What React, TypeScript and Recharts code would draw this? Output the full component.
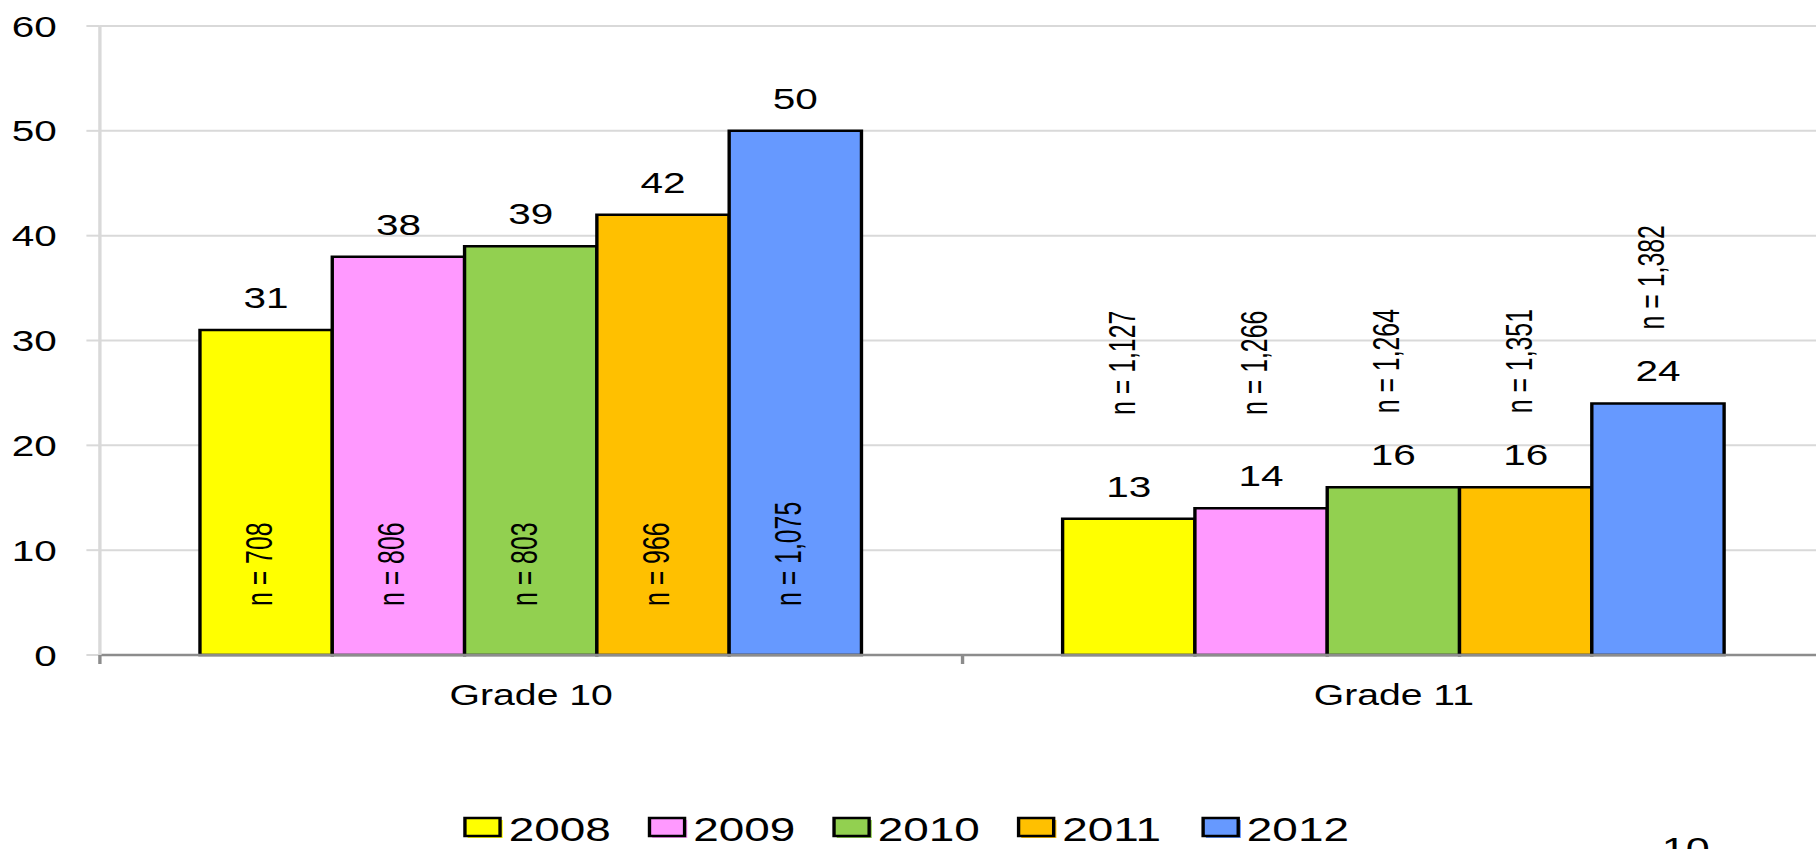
import React from 'react';
import { BarChart, Bar, XAxis, YAxis, CartesianGrid, Legend, LabelList } from 'recharts';

// ---------- data ----------
const categories = ['Grade 10', 'Grade 11'];
const years = ['2008', '2009', '2010', '2011', '2012'];
const values2008 = [31, 13];
const values2009 = [38, 14];
const values2010 = [39, 16];
const values2011 = [42, 16];
const values2012 = [50, 24];
const n2008 = [708, 1127];
const n2009 = [806, 1266];
const n2010 = [803, 1264];
const n2011 = [966, 1351];
const n2012 = [1075, 1382];
const yTicks = [0, 10, 20, 30, 40, 50, 60];
const colors = ['#FFFF00', '#FF99FF', '#92D050', '#FFC000', '#6699FF'];
const pageNumber = '10';

const seriesValues = [values2008, values2009, values2010, values2011, values2012];
const seriesN = [n2008, n2009, n2010, n2011, n2012];

const data = categories.map((c, i) => {
  const row: any = { category: c };
  years.forEach((yr, k) => {
    row['v' + yr] = seriesValues[k][i];
  });
  return row;
});

// ---------- styles ----------
const FONT = '"Liberation Sans", Arial, Helvetica, sans-serif';
const SX = 1.35; // horizontal stretch of the original picture
const CHART_W = 1360;
const CHART_H = 849;

const fmt = (n: number) => 'n = ' + n.toLocaleString('en-US');

const makeNLabel = (k: number) => (props: any) => {
  const vb = props.viewBox || props;
  const x = Number(props.x ?? vb.x);
  const y = Number(props.y ?? vb.y);
  const width = Number(props.width ?? vb.width);
  const height = Number(props.height ?? vb.height);
  const index = props.index;
  const value = seriesValues[k][index];
  const n = seriesN[k][index];
  if (!isFinite(x) || !isFinite(y) || !value) return null;
  const base = y + height;
  const ppu = height / value;
  const cx = x + width / 2;
  let startY: number;
  if (height >= 300) startY = base - 49;
  else startY = Math.min(base - 22.9 * ppu, y - 74);
  return (
    <text
      x={0}
      y={0}
      dy={4.5}
      transform={`translate(${cx} ${startY}) rotate(-90) scale(0.92 1)`}
      textAnchor="start"
      fontSize={27}
      fontFamily={FONT}
      fill="#000"
    >
      {fmt(n)}
    </text>
  );
};

const XTick = (props: any) => {
  const { x, y, payload, width, visibleTicksCount } = props;
  const band = width && visibleTicksCount ? width / visibleTicksCount : 0;
  return (
    <g>
      {band > 0 && (
        <line x1={x - band / 2} x2={x - band / 2} y1={y} y2={y + 9} stroke="#8C8C8C" strokeWidth={2.5} />
      )}
      <text x={x} y={y + 50} textAnchor="middle" fontSize={29} fontFamily={FONT} fill="#000">
        {payload.value}
      </text>
    </g>
  );
};

const LegendContent = () => (
  <svg width={CHART_W} height={60} style={{ display: 'block', overflow: 'visible' }}>
    {years.map((yr, i) => {
      const x0 = 344.4 + i * 136.7;
      return (
        <g key={yr}>
          <rect x={x0 + 2} y={31} width={26} height={18} fill={colors[i]} />
          <rect x={x0} y={29} width={26} height={18} fill={colors[i]} stroke="#000" strokeWidth={2.5} />
          <text x={x0 + 32.4} y={52} fontSize={34} fontFamily={FONT} fill="#000">
            {yr}
          </text>
        </g>
      );
    })}
  </svg>
);

export default function App() {
  return (
    <div
      style={{
        position: 'fixed',
        left: 0,
        top: 0,
        width: 1816,
        height: 849,
        overflow: 'hidden',
        background: '#fff',
      }}
    >
      <div
        style={{
          position: 'relative',
          width: CHART_W,
          height: CHART_H,
          transform: `scaleX(${SX})`,
          transformOrigin: '0 0',
        }}
      >
        <BarChart
          width={CHART_W}
          height={CHART_H}
          data={data}
          margin={{ top: 26, right: 8, bottom: 0, left: 0 }}
          barCategoryGap="11.6%"
          barGap={0}
        >
          <CartesianGrid vertical={false} stroke="#D9D9D9" strokeWidth={2} />
          <XAxis
            dataKey="category"
            height={134}
            tickSize={0}
            tickMargin={0}
            tickLine={false}
            axisLine={{ stroke: '#8C8C8C', strokeWidth: 2.5 }}
            tick={<XTick />}
            interval={0}
          />
          <YAxis
            width={74}
            domain={[0, 60]}
            ticks={yTicks}
            interval={0}
            tickSize={10}
            tickMargin={22}
            axisLine={{ stroke: '#D9D9D9', strokeWidth: 2.5 }}
            tickLine={{ stroke: '#D9D9D9', strokeWidth: 2 }}
            tick={{ fontSize: 30, fill: '#000', fontFamily: FONT }}
          />
          <Legend verticalAlign="bottom" align="left" content={<LegendContent />} />
          {years.map((yr, k) => (
            <Bar
              key={yr}
              dataKey={'v' + yr}
              name={yr}
              fill={colors[k]}
              stroke="#000"
              strokeWidth={2.5}
              isAnimationActive={false}
            >
              <LabelList
                dataKey={'v' + yr}
                position="top"
                offset={22}
                fontSize={30}
                fill="#000"
                fontFamily={FONT}
              />
              <LabelList dataKey={'v' + yr} content={makeNLabel(k)} />
            </Bar>
          ))}
        </BarChart>
        <svg
          width={CHART_W}
          height={CHART_H}
          style={{ position: 'absolute', left: 0, top: 0, pointerEvents: 'none' }}
        >
          <text x={1231} y={860} fontSize={32} fontFamily={FONT} fill="#000">
            {pageNumber}
          </text>
        </svg>
      </div>
    </div>
  );
}
